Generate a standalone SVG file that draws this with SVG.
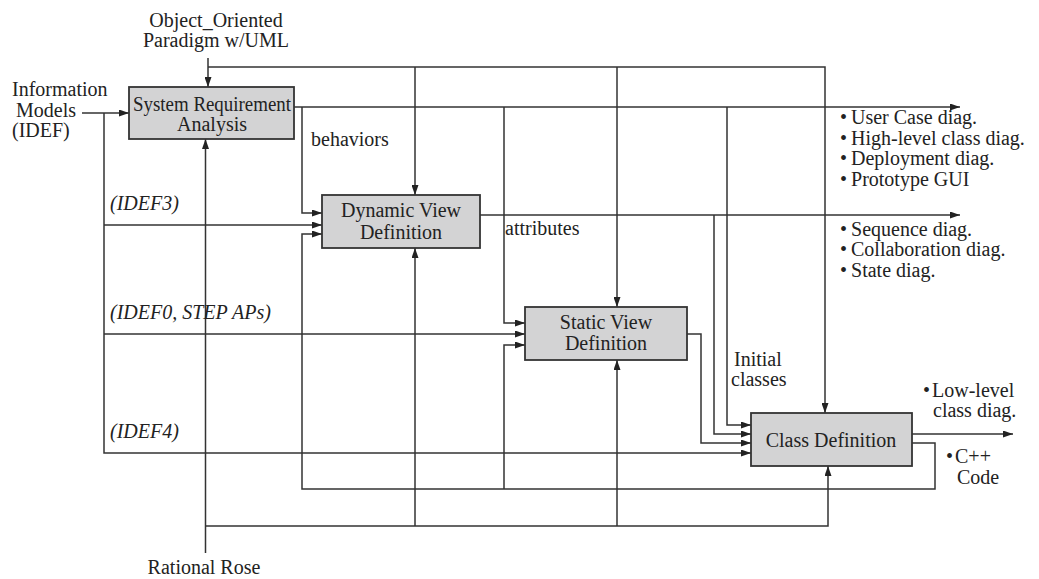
<svg xmlns="http://www.w3.org/2000/svg" width="1039" height="579" viewBox="0 0 1039 579">
<style>
  text { font-family: "Liberation Serif", "Times New Roman", "DejaVu Serif", serif; font-size: 20px; fill: #222; }
  .it { font-style: italic; }
  .mid { text-anchor: middle; }
  .box { fill: #d3d3d4; stroke: #333; stroke-width: 1.8; }
  .ln { fill: none; stroke: #333; stroke-width: 1.5; }
  .ar { marker-end: url(#ah); }
</style>
<defs>
  <marker id="ah" markerUnits="userSpaceOnUse" markerWidth="10" markerHeight="7" refX="10" refY="3.5" orient="auto">
    <path d="M0,0 L10,3.5 L0,7 z" fill="#222"/>
  </marker>
</defs>

<g id="connectors">
  <path class="ln ar" d="M208,58 V87"/>
  <path class="ln ar" d="M208,67 H825 V413"/>
  <path class="ln ar" d="M415,67 V195"/>
  <path class="ln ar" d="M617,67 V307"/>
  <path class="ln ar" d="M82,113 H129"/>
  <path class="ln ar" d="M104,113 V453 H751"/>
  <path class="ln ar" d="M104,225 H322"/>
  <path class="ln ar" d="M104,334 H525"/>
  <path class="ln ar" d="M294,107 H960"/>
  <path class="ln ar" d="M302,107 V213 H322"/>
  <path class="ln ar" d="M504,107 V323 H525"/>
  <path class="ln ar" d="M727,107 V425 H751"/>
  <path class="ln ar" d="M480,215 H960"/>
  <path class="ln ar" d="M714,215 V434 H751"/>
  <path class="ln ar" d="M687,334 H701 V443 H751"/>
  <path class="ln ar" d="M912,434 H1013"/>
  <path class="ln ar" d="M912,443 H935 V489 H302 V234 H322"/>
  <path class="ln ar" d="M504,489 V345 H525"/>
  <path class="ln ar" d="M205.5,553 V139"/>
  <path class="ln ar" d="M205.5,526 H828 V466"/>
  <path class="ln ar" d="M415,526 V248"/>
  <path class="ln ar" d="M617,526 V360"/>
</g>

<g id="sra">
  <rect class="box" x="129" y="87" width="165" height="52"/>
  <text class="mid" x="212" y="111" textLength="158" lengthAdjust="spacingAndGlyphs">System Requirement</text>
  <text class="mid" x="212" y="131">Analysis</text>
</g>
<g id="dvd">
  <rect class="box" x="322" y="195" width="158" height="53"/>
  <text class="mid" x="401" y="217">Dynamic View</text>
  <text class="mid" x="401" y="239">Definition</text>
</g>
<g id="svd">
  <rect class="box" x="525" y="307" width="162" height="53"/>
  <text class="mid" x="606" y="329">Static View</text>
  <text class="mid" x="606" y="350">Definition</text>
</g>
<g id="cd">
  <rect class="box" x="751" y="413" width="161" height="53"/>
  <text class="mid" x="831" y="447">Class Definition</text>
</g>

<g id="label-oop">
  <text class="mid" x="216" y="27">Object_Oriented</text>
  <text class="mid" x="216" y="47">Paradigm w/UML</text>
</g>
<g id="label-info">
  <text x="12" y="96">Information</text>
  <text x="16" y="117">Models</text>
  <text x="12" y="137">(IDEF)</text>
</g>
<g id="label-rose">
  <text class="mid" x="204" y="574">Rational Rose</text>
</g>
<g id="labels">
  <text x="311" y="146">behaviors</text>
  <text x="505" y="235">attributes</text>
  <text x="734" y="366">Initial</text>
  <text x="731" y="386">classes</text>
  <text class="it" x="110" y="210">(IDEF3)</text>
  <text class="it" x="110" y="319">(IDEF0, STEP APs)</text>
  <text class="it" x="110" y="438">(IDEF4)</text>
</g>
<g id="out-sra">
  <text x="840" y="124">•<tspan dx="4">User Case diag.</tspan></text>
  <text x="840" y="145">•<tspan dx="4">High-level class diag.</tspan></text>
  <text x="840" y="165">•<tspan dx="4">Deployment diag.</tspan></text>
  <text x="840" y="186">•<tspan dx="4">Prototype GUI</tspan></text>
</g>
<g id="out-dvd">
  <text x="840" y="236">•<tspan dx="4">Sequence diag.</tspan></text>
  <text x="840" y="256">•<tspan dx="4">Collaboration diag.</tspan></text>
  <text x="840" y="277">•<tspan dx="4">State diag.</tspan></text>
</g>
<g id="out-cd">
  <text x="923" y="397">•<tspan dx="2">Low-level</tspan></text>
  <text x="933" y="417">class diag.</text>
  <text x="946" y="463">•<tspan dx="2">C++</tspan></text>
  <text x="957" y="484">Code</text>
</g>
</svg>
